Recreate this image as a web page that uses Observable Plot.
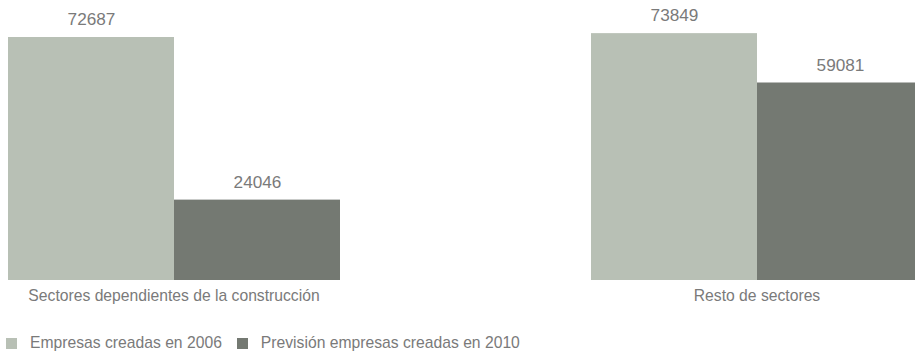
<!DOCTYPE html>
<html>
<head>
<meta charset="utf-8">
<script src="https://cdn.jsdelivr.net/npm/d3@7"></script>
<script src="https://cdn.jsdelivr.net/npm/@observablehq/plot@0.6"></script>
<style>
  html, body { margin: 0; padding: 0; background: #fff; }
  body { width: 915px; height: 352px; overflow: hidden; font-family: "Liberation Sans", Arial, sans-serif; }
  #chart svg { display: block; }
  .legend { display: flex; align-items: center; padding-top: 20px; height: 16px; padding-left: 6px; font-size: 15.7px; color: #7a7a7a; }
  .legend .sw { width: 11px; height: 11px; display: inline-block; margin-right: 13px; }
  .legend .item { display: flex; align-items: center; margin-right: 15px; white-space: nowrap; }
</style>
</head>
<body>
<div id="chart"></div>
<div class="legend" id="legend"></div>
<script>
// Sector groups, series and values
const groups = ["Sectores dependientes de la construcción", "Resto de sectores"];
const series = ["Empresas creadas en 2006", "Previsión empresas creadas en 2010"];
const values2006 = [72687, 73849];
const values2010 = [24046, 59081];
const colors = ["#b8c0b5", "#747972"];

const rows = [];
groups.forEach((g, i) => {
  rows.push({group: g, serie: series[0], value: values2006[i]});
  rows.push({group: g, serie: series[1], value: values2010[i]});
});

const chart = Plot.plot({
  width: 915,
  height: 315,
  marginTop: 0,
  marginBottom: 35,
  marginLeft: 6,
  marginRight: 0,
  style: {fontFamily: "'Liberation Sans', Arial, sans-serif", fontSize: "15.7px", color: "#7a7a7a", background: "#fff"},
  fx: {domain: groups, range: [6, 924], paddingInner: 0.428, paddingOuter: 0, label: null, tickSize: 0, tickPadding: 9},
  x: {domain: series, padding: 0, axis: null},
  y: {domain: [0, 83760], axis: null},
  color: {domain: series, range: colors},
  marks: [
    Plot.barY(rows, {fx: "group", x: "serie", y: "value", fill: "serie"}),
    Plot.text(rows, {fx: "group", x: "serie", y: "value", text: d => String(d.value), lineAnchor: "middle", dy: -18, fontSize: 17.2, fill: "#7a7a7a"})
  ]
});
document.getElementById("chart").appendChild(chart);

const legend = document.getElementById("legend");
series.forEach((s, i) => {
  const item = document.createElement("span");
  item.className = "item";
  const sw = document.createElement("span");
  sw.className = "sw";
  sw.style.background = colors[i];
  item.appendChild(sw);
  item.appendChild(document.createTextNode(s));
  legend.appendChild(item);
});
</script>
</body>
</html>
